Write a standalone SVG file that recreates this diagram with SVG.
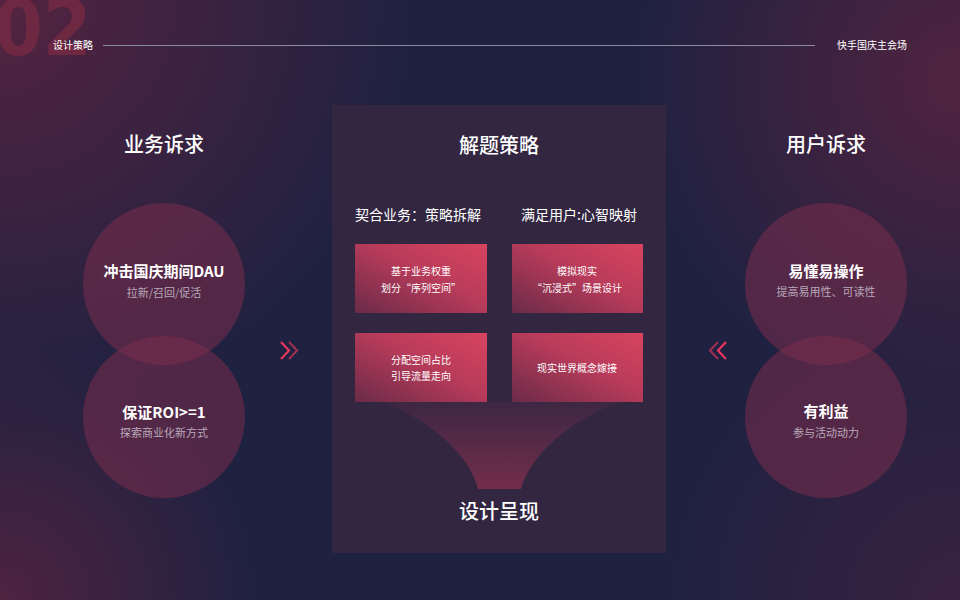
<svg xmlns="http://www.w3.org/2000/svg" width="960" height="600" viewBox="0 0 960 600">
<defs>
<radialGradient id="gTL" cx="0" cy="0" r="420" gradientUnits="userSpaceOnUse">
<stop offset="0" stop-color="#5a2440" stop-opacity="0.9"/>
<stop offset="1" stop-color="#5a2440" stop-opacity="0"/>
</radialGradient>
<radialGradient id="gBL" cx="0" cy="600" r="260" gradientUnits="userSpaceOnUse">
<stop offset="0" stop-color="#5a2440" stop-opacity="0.8"/>
<stop offset="1" stop-color="#5a2440" stop-opacity="0"/>
</radialGradient>
<radialGradient id="gTR" cx="960" cy="80" r="330" gradientUnits="userSpaceOnUse">
<stop offset="0" stop-color="#5a2440" stop-opacity="0.85"/>
<stop offset="1" stop-color="#5a2440" stop-opacity="0"/>
</radialGradient>
<radialGradient id="gBR" cx="960" cy="600" r="300" gradientUnits="userSpaceOnUse">
<stop offset="0" stop-color="#4a2240" stop-opacity="0.6"/>
<stop offset="1" stop-color="#4a2240" stop-opacity="0"/>
</radialGradient>
<linearGradient id="gBox" x1="0" y1="1" x2="1" y2="0">
<stop offset="0" stop-color="#6a2b48"/>
<stop offset="0.55" stop-color="#b83b5a"/>
<stop offset="1" stop-color="#d8445f"/>
</linearGradient>
<linearGradient id="gFun" x1="0" y1="0" x2="0" y2="1">
<stop offset="0" stop-color="#7a2e4c" stop-opacity="0.15"/>
<stop offset="1" stop-color="#7a2e4c" stop-opacity="0.9"/>
</linearGradient>
<style>
text{font-family:"Noto Sans CJK SC","Noto Sans",sans-serif;fill:#ffffff;}
.title{font-size:20px;font-weight:500;text-anchor:middle;}
.ct{font-size:15px;font-weight:700;text-anchor:middle;}
.cs{font-size:11px;fill:#b9a9ba;text-anchor:middle;}
.bt{font-size:10px;text-anchor:middle;}
.sub{font-size:14px;}
.hd{font-size:10px;}
.circ{fill:#7a2e4c;fill-opacity:0.55;}
.box{fill:url(#gBox);}
</style>
</defs>
<rect width="960" height="600" fill="#1f2141"/>
<rect width="960" height="600" fill="url(#gTL)"/>
<rect width="960" height="600" fill="url(#gBL)"/>
<rect width="960" height="600" fill="url(#gTR)"/>
<rect width="960" height="600" fill="url(#gBR)"/>

<g id="header">
<text x="-6" y="55" style="font-family:'DejaVu Sans Condensed','Liberation Sans',sans-serif;font-size:78px;font-weight:700;fill:#6e2842">02</text>
<text x="53" y="49" class="hd">设计策略</text>
<line x1="103" y1="45.5" x2="815" y2="45.5" stroke="#8a8aa2" stroke-width="1"/>
<text x="837" y="49" class="hd">快手国庆主会场</text>
</g>

<g id="left">
<text x="164" y="152" class="title">业务诉求</text>
<g id="l1">
<circle cx="164" cy="284" r="81" class="circ"/>
<text x="164" y="277" class="ct">冲击国庆期间DAU</text>
<text x="164" y="297" class="cs">拉新/召回/促活</text>
</g>
<g id="l2">
<circle cx="164" cy="417" r="81" class="circ"/>
<text x="164" y="418" class="ct">保证ROI&gt;=1</text>
<text x="164" y="437" class="cs">探索商业化新方式</text>
</g>
</g>

<g id="center">
<rect x="332" y="105" width="334" height="448" fill="#322641"/>
<text x="499" y="153" class="title">解题策略</text>
<text x="355" y="220" class="sub">契合业务：策略拆解</text>
<text x="521" y="220" class="sub">满足用户:心智映射</text>
<path d="M383,402 C430,420 470,455 478,489 L521,489 C530,455 570,420 620,402 Z" fill="url(#gFun)"/>
<g id="b1">
<rect x="355" y="244" width="132" height="69" class="box"/>
<text x="421" y="275" class="bt">基于业务权重</text>
<text x="421" y="292" class="bt">划分“序列空间”</text>
</g>
<g id="b2">
<rect x="512" y="244" width="131" height="69" class="box"/>
<text x="577" y="275" class="bt">模拟现实</text>
<text x="577" y="292" class="bt">“沉浸式”场景设计</text>
</g>
<g id="b3">
<rect x="355" y="333" width="132" height="69" class="box"/>
<text x="421" y="364" class="bt">分配空间占比</text>
<text x="421" y="380" class="bt">引导流量走向</text>
</g>
<g id="b4">
<rect x="512" y="333" width="131" height="69" class="box"/>
<text x="577" y="372" class="bt">现实世界概念嫁接</text>
</g>
<text x="499" y="519" class="title">设计呈现</text>
</g>

<g id="right">
<text x="826" y="152" class="title">用户诉求</text>
<g id="r1">
<circle cx="826" cy="284" r="81" class="circ"/>
<text x="826" y="277" class="ct">易懂易操作</text>
<text x="826" y="296" class="cs">提高易用性、可读性</text>
</g>
<g id="r2">
<circle cx="826" cy="417" r="81" class="circ"/>
<text x="826" y="417" class="ct">有利益</text>
<text x="826" y="437" class="cs">参与活动动力</text>
</g>
</g>

<g id="connectors" fill="none" stroke-width="2.2">
<polyline points="281,342 289,350.5 281,359" stroke="#e8365e"/>
<polyline points="289,342 297,350.5 289,359" stroke="#9a2f50"/>
<polyline points="718,342 710,350.5 718,359" stroke="#9a2f50"/>
<polyline points="726,342 718,350.5 726,359" stroke="#e8365e"/>
</g>
</svg>
